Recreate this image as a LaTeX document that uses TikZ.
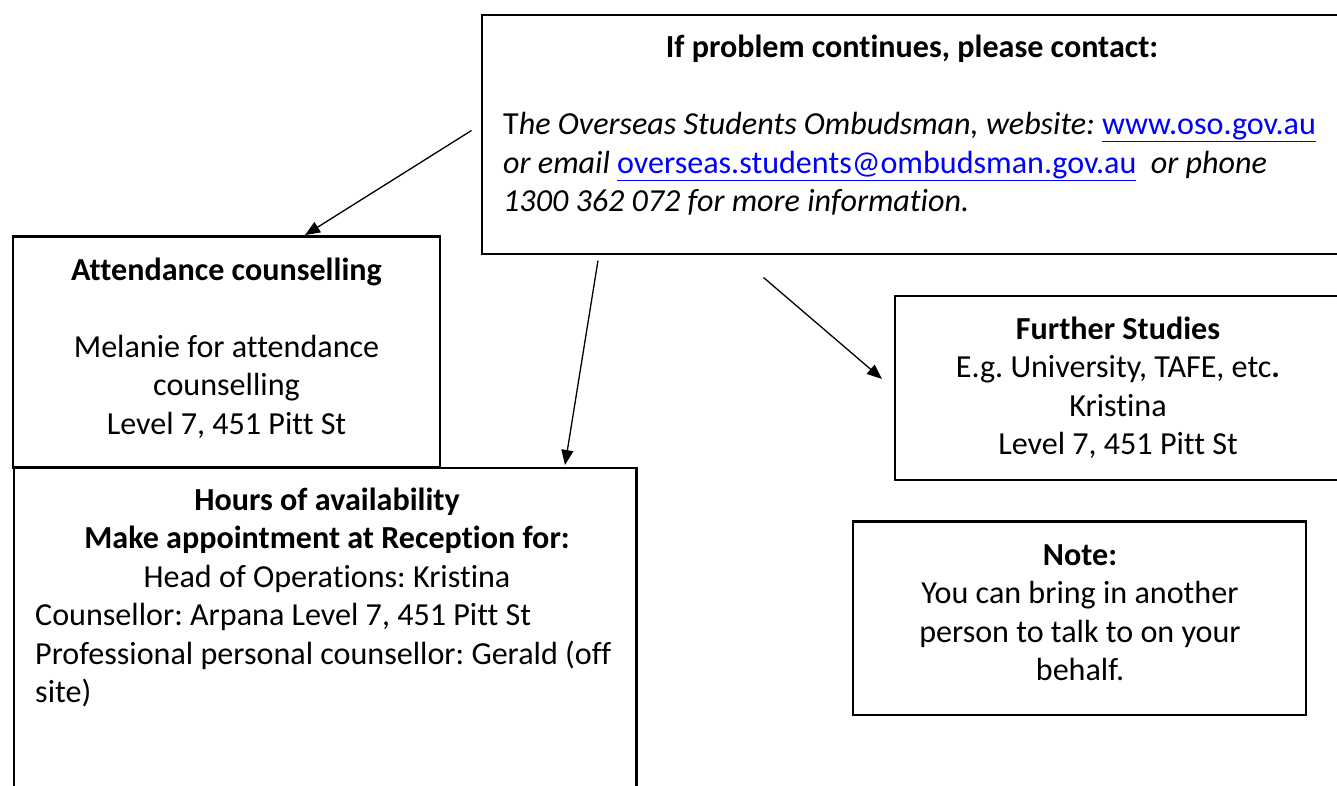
\documentclass[tikz,border=0pt]{standalone}
\usepackage{fontspec}
\setmainfont{Carlito}[Ligatures=NoCommon]
\usetikzlibrary{arrows.meta}
\definecolor{linkblue}{RGB}{0,0,255}
\newcommand{\weblink}[1]{\textcolor{linkblue}{\underline{#1}}}
\frenchspacing
\begin{document}
\begin{tikzpicture}[x=1pt,y=-1pt,
  box/.style={draw=black, line width=2.7pt, inner sep=0pt, outer sep=0pt, anchor=north west},
  txt/.style={inner sep=0pt, font=\fontsize{32.1}{38.6}\selectfont\frenchspacing},
  ctr/.style={txt, anchor=base},
  lft/.style={txt, anchor=base west},
  arr/.style={line width=1.3pt, -{Triangle[length=15pt,width=12pt]}}]
\clip (0,0) rectangle (1337,785);
\fill[white] (0,0) rectangle (1337,785);
% boxes
\node[box, minimum width=863pt, minimum height=239pt] (top) at (482,15) {};
\node[box, minimum width=427pt, minimum height=231pt] (att) at (13,236.5) {};
\node[box, minimum width=622.5pt, minimum height=332pt] (hrs) at (14,468) {};
\node[box, minimum width=450pt, minimum height=184pt] (fs) at (895,296) {};
\node[box, minimum width=453pt, minimum height=193.5pt] (note) at (853,521.5) {};
% top box text
\node[ctr] (t1) at (912,57) {\textbf{If problem continues, please contact:}};
\node[lft] (t2) at (503,134.5) {T\textit{he Overseas Students Ombudsman, website:} \weblink{www.oso.gov.au}};
\node[lft] (t3) at (503,173) {\textit{or email} \weblink{overseas.students@ombudsman.gov.au}\ \ \textit{or phone}};
\node[lft] (t4) at (503,211.5) {\textit{1300 362 072 for more information.}};
% attendance
\node[ctr] (a1) at (226.5,280) {\textbf{Attendance counselling}};
\node[ctr] (a2) at (226.5,357) {Melanie for attendance};
\node[ctr] (a3) at (226.5,395.5) {counselling};
\node[ctr] (a4) at (226.5,434) {Level 7, 451 Pitt St};
% hours
\node[ctr] (h1) at (327,510) {\textbf{Hours of availability}};
\node[ctr] (h2) at (327,548.5) {\textbf{Make appointment at Reception for:}};
\node[ctr] (h3) at (327,587) {Head of Operations: Kristina};
\node[lft] (h4) at (35,625.5) {Counsellor: Arpana Level 7, 451 Pitt St};
\node[lft] (h5) at (35,664) {Professional personal counsellor: Gerald (off};
\node[lft] (h6) at (35,702.5) {site)};
% further studies
\node[ctr] (f1) at (1118,339) {\textbf{Further Studies}};
\node[ctr] (f2) at (1118,377.5) {E.g. University, TAFE, etc\textbf{.}};
\node[ctr] (f3) at (1118,416) {Kristina};
\node[ctr] (f4) at (1118,454.5) {Level 7, 451 Pitt St};
% note
\node[ctr] (n1) at (1080,565) {\textbf{Note:}};
\node[ctr] (n2) at (1080,603.5) {You can bring in another};
\node[ctr] (n3) at (1080,642) {person to talk to on your};
\node[ctr] (n4) at (1080,680.5) {behalf.};
% connectors
\coordinate (s1) at (471.5,130.5);
\coordinate (s2) at (598,260.5);
\coordinate (s3) at (763.5,277.5);
\draw[arr] (s1) -- ([xshift=292pt,yshift=1.4pt]att.north west);
\draw[arr] (s2) -- ([xshift=551pt,yshift=3pt]hrs.north west);
\draw[arr] (s3) -- ([xshift=-13pt,yshift=-83pt]fs.north west);
\end{tikzpicture}
\end{document}
